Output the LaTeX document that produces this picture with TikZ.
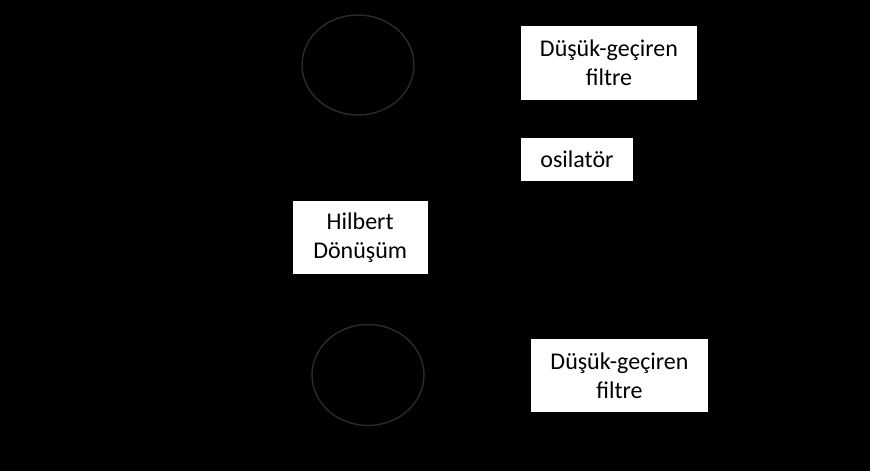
\documentclass[tikz,border=0pt]{standalone}
\usepackage{fontspec}
\setmainfont{Carlito}
\usetikzlibrary{shapes.geometric}
\definecolor{ringgray}{HTML}{2B2B2B}
\tikzset{
  whitebox/.style={rectangle, fill=white, draw=none, inner sep=0pt, align=center,
    font=\fontsize{24}{29}\selectfont, text=black},
  ring/.style={ellipse, draw=ringgray, line width=1.4pt, inner sep=0pt, fill=black}
}
\begin{document}
\begin{tikzpicture}[x=1pt,y=-1pt]
\fill[black] (0,0) rectangle (870,471);
\useasboundingbox (0,0) rectangle (870,471);
\node[ring, minimum width=112pt, minimum height=100pt] (mix1) at (358,65) {};
\node[ring, minimum width=112pt, minimum height=101pt] (mix2) at (368,375) {};
\node[whitebox, minimum width=176pt, minimum height=74pt] (lpf1) at (609,62.8) {Düşük-geçiren\\filtre};
\node[whitebox, minimum width=112pt, minimum height=43pt] (osc) at (577,159.3) {osilatör};
\node[whitebox, minimum width=135pt, minimum height=73pt] (hil) at (360.2,237.5) {Hilbert\\Dönüşüm};
\node[whitebox, minimum width=177pt, minimum height=73pt] (lpf2) at (619.5,375.5) {Düşük-geçiren\\filtre};
\end{tikzpicture}
\end{document}
